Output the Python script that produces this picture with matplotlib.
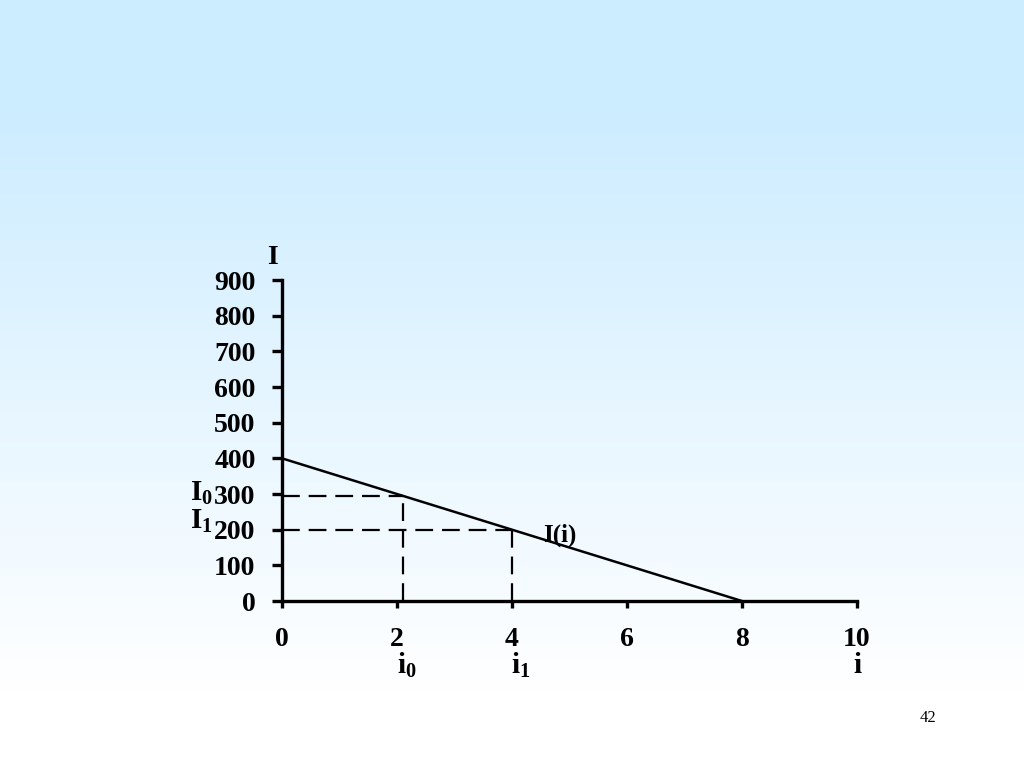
"""
Investment demand curve I(i) with two marked points
"""

import matplotlib.pyplot as plt
import numpy as np

plt.rcParams["font.family"] = ["Liberation Serif", "DejaVu Serif"]
plt.rcParams["font.weight"] = "bold"
plt.rcParams["mathtext.fontset"] = "custom"
plt.rcParams["mathtext.rm"] = "Liberation Serif:bold"
plt.rcParams["mathtext.it"] = "Liberation Serif:bold"
plt.rcParams["mathtext.bf"] = "Liberation Serif:bold"

# data
rate = [0, 8]
invest = [400, 0]
i0, I0 = 2.1, 295
i1, I1 = 4, 200
x_ticks = [0, 2, 4, 6, 8, 10]
y_ticks = [0, 100, 200, 300, 400, 500, 600, 700, 800, 900]

fig = plt.figure(figsize=(10.24, 7.68), dpi=100)

# background gradient (solid light blue at top, fading to white near bottom)
bg = fig.add_axes([0, 0, 1, 1], zorder=-1)
rows = np.arange(768)
grad = np.clip((rows - 100) / (690 - 100), 0, 1).reshape(-1, 1)
top = np.array([0xCC, 0xEC, 0xFF]) / 255
bottom = np.array([1.0, 1.0, 1.0])
img = top[None, None, :] * (1 - grad[:, :, None]) + bottom[None, None, :] * grad[:, :, None]
bg.imshow(img, aspect="auto", extent=[0, 1, 0, 1])
bg.axis("off")

ax = fig.add_axes([0.2754, 0.2174, 0.5615, 0.418])
ax.patch.set_alpha(0)

ax.plot(rate, invest, color="black", linewidth=1.8, clip_on=False)

# dashed guide lines
dash = dict(color="black", linewidth=1.6, linestyle=(0, (8, 4)))
ax.plot([0, i0], [I0, I0], **dash)
ax.plot([i0, i0], [0, I0], **dash)
ax.plot([0, i1], [I1, I1], **dash)
ax.plot([i1, i1], [0, I1], **dash)

ax.set_xlim(0, 10)
ax.set_ylim(0, 900)
ax.set_xticks(x_ticks)
ax.set_yticks(y_ticks)

for side in ["top", "right"]:
    ax.spines[side].set_visible(False)
for side in ["left", "bottom"]:
    ax.spines[side].set_linewidth(2.4)

ax.tick_params(axis="y", direction="out", length=7, width=2.4, pad=12, labelsize=20)
ax.tick_params(axis="x", direction="out", length=5, width=2.4, pad=14, labelsize=20)
for lab in ax.get_xticklabels() + ax.get_yticklabels():
    lab.set_fontweight("bold")

# labels
ax.text(-0.17, 963, "I", fontsize=20, ha="center", va="center", fontweight="bold")
ax.text(-1.6, 303, r"$I_0$", fontsize=21, ha="left", va="center")
ax.text(-1.6, 222, r"$I_1$", fontsize=21, ha="left", va="center")
ax.text(2.0, -180, r"$i_0$", fontsize=21, ha="left", va="center")
ax.text(3.98, -180, r"$i_1$", fontsize=21, ha="left", va="center")
ax.text(10, -182, "i", fontsize=21, ha="center", va="center", fontweight="bold")
ax.text(4.54, 185, "I(i)", fontsize=18, ha="left", va="center", fontweight="bold")

# slide number
fig.text(0.906, 0.065, "42", fontsize=12, fontweight="normal", ha="center", va="center")

fig.savefig("out.png", dpi=100)
